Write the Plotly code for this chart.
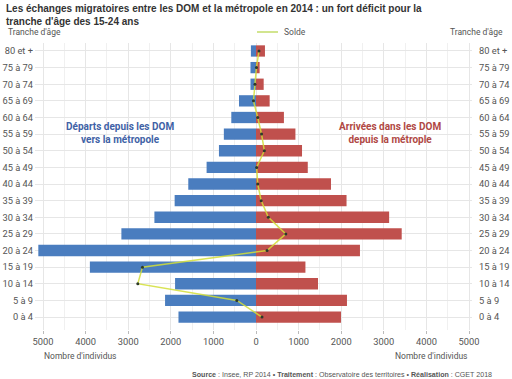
import plotly.graph_objects as go

categories = ["0 à 4", "5 à 9", "10 à 14", "15 à 19", "20 à 24", "25 à 29", "30 à 34",
              "35 à 39", "40 à 44", "45 à 49", "50 à 54", "55 à 59", "60 à 64",
              "65 à 69", "70 à 74", "75 à 79", "80 et +"]
departs = [1820, 2135, 1900, 3900, 5110, 3160, 2385, 1910, 1590, 1160, 870, 755, 580, 400, 130, 130, 120]
arrivees = [1995, 2135, 1455, 1160, 2440, 3420, 3125, 2125, 1760, 1215, 1080, 925, 655, 320, 180, 85, 210]
solde = [140, -450, -2775, -2665, 260, 700, 290, 120, 40, 15, 195, 130, 40, -60, -25, 10, 70]
x_ticks = [-5000, -4000, -3000, -2000, -1000, 0, 1000, 2000, 3000, 4000, 5000]
x_ticktext = ["5000", "4000", "3000", "2000", "1000", "0", "1000", "2000", "3000", "4000", "5000"]

W, H = 512, 379
L, R, T, B = 35, 40, 43, 49
PW, PH = W - L - R, H - T - B


def px(x):
    return (x - L) / PW


def py(y):
    return (H - B - y) / PH


FN = "Liberation Sans Narrow, Roboto, Arial Narrow, sans-serif"
BLUE = "#4a7dbf"
RED = "#c0504d"
GRID = "#e6e6e6"

fig = go.Figure()
fig.add_trace(go.Bar(y=categories, x=[-v for v in departs], orientation="h",
                     marker=dict(color=BLUE, line=dict(width=0)), width=0.68,
                     showlegend=False, name="Départs"))
fig.add_trace(go.Bar(y=categories, x=arrivees, orientation="h",
                     marker=dict(color=RED, line=dict(width=0)), width=0.68,
                     showlegend=False, name="Arrivées"))
fig.add_trace(go.Scatter(y=categories, x=solde, mode="lines+markers",
                         line=dict(color="rgba(210,222,55,0.85)", width=1.5),
                         marker=dict(size=3, color="#2d3a2a"),
                         showlegend=False, name="Solde"))
fig.add_trace(go.Scatter(y=categories, x=[0] * len(categories), yaxis="y2",
                         mode="markers", marker=dict(opacity=0),
                         hoverinfo="skip", showlegend=False))

tfont = dict(family=FN, size=9.3, color="#555555")

fig.update_layout(
    width=W, height=H,
    margin=dict(l=L, r=R, t=T, b=B, pad=0, autoexpand=False),
    paper_bgcolor="white", plot_bgcolor="white",
    barmode="relative", bargap=0.3,
    xaxis=dict(range=[-5188, 5070], tickmode="array", tickvals=x_ticks, ticktext=x_ticktext,
               showgrid=True, gridcolor=GRID, gridwidth=1, zeroline=False,
               ticks="outside", ticklen=3, tickcolor="#bbbbbb", automargin=False,
               minor=dict(tickmode="linear", tick0=0, dtick=500, showgrid=True,
                          gridcolor="#f0f0f0", ticks=""),
               tickfont=tfont),
    yaxis=dict(type="category", categoryorder="array", categoryarray=categories,
               range=[-0.78, 16.48], showgrid=True, gridcolor=GRID, zeroline=False,
               ticks="", automargin=False, ticklabelstandoff=1, tickfont=tfont),
    yaxis2=dict(type="category", categoryorder="array", categoryarray=categories,
                overlaying="y", side="right", matches="y", showgrid=False, zeroline=False,
                ticks="", automargin=False, ticklabelstandoff=6, tickfont=tfont),
    font=dict(family=FN, color="#555555"),
)

annotations = [
    dict(x=px(4), y=py(1), xanchor="left", yanchor="top", align="left",
         text="<b>Les échanges migratoires entre les DOM et la métropole en 2014 : un fort déficit pour la<br>tranche d'âge des 15-24 ans</b>",
         font=dict(family="Liberation Sans, Arial, sans-serif", size=10, color="#333333")),
    dict(x=px(6), y=py(32), xanchor="left", yanchor="middle", text="Tranche d'âge",
         font=dict(family=FN, size=8.5, color="#555555")),
    dict(x=px(505), y=py(32), xanchor="right", yanchor="middle", text="Tranche d'âge",
         font=dict(family=FN, size=8.5, color="#555555")),
    dict(x=px(282), y=py(32), xanchor="left", yanchor="middle", text="Solde",
         font=dict(family=FN, size=8.5, color="#555555")),
    dict(x=px(42), y=py(356), xanchor="left", yanchor="middle", text="Nombre d'individus",
         font=dict(family=FN, size=8.5, color="#555555")),
    dict(x=px(470), y=py(356), xanchor="right", yanchor="middle", text="Nombre d'individus",
         font=dict(family=FN, size=8.5, color="#555555")),
    dict(x=px(120), y=py(133), xanchor="center", yanchor="middle",
         text="<b>Départs depuis les DOM<br>vers la métropole</b>",
         font=dict(family=FN, size=10, color="#3f62a6")),
    dict(x=px(390), y=py(133), xanchor="center", yanchor="middle",
         text="<b>Arrivées dans les DOM<br>depuis la métrople</b>",
         font=dict(family=FN, size=10, color="#b04844")),
    dict(x=px(494), y=py(375), xanchor="right", yanchor="middle",
         text="<b>Source</b> : Insee, RP 2014 • <b>Traitement</b> : Observatoire des territoires • <b>Réalisation</b> : CGET 2018",
         font=dict(family="Liberation Sans, Arial, sans-serif", size=7.1, color="#555555")),
]
for a in annotations:
    a.update(xref="paper", yref="paper", showarrow=False)
fig.update_layout(annotations=annotations)

fig.add_shape(type="line", xref="paper", yref="paper", x0=px(257), x1=px(278),
              y0=py(32), y1=py(32), line=dict(color="#c3dc6a", width=1.5))

fig.write_html("out.html", config={"displayModeBar": False},
               post_script="document.body.style.margin='0';")
